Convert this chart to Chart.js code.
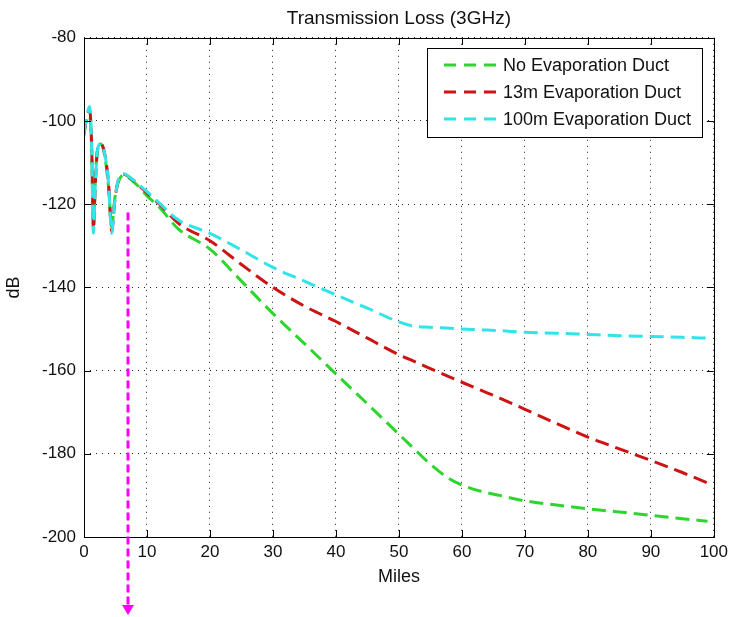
<!DOCTYPE html>
<html>
<head>
<meta charset="utf-8">
<title>Transmission Loss (3GHz)</title>
<script src="https://cdn.jsdelivr.net/npm/chart.js@4.4.0/dist/chart.umd.min.js"></script>
<style>
  html, body { margin: 0; padding: 0; background: #fff; }
  #wrap { width: 733px; height: 617px; }
</style>
</head>
<body>
<div id="wrap"><canvas id="lossChart" width="733" height="617"></canvas></div>
<script>
// Distance in miles, shared by the three curves
const miles = [0, 0.4, 0.9, 1.2, 1.5, 1.8, 2.2, 2.7, 3.3, 3.9,
               4.4, 4.9, 5.5, 6.3, 7, 8.5, 10, 12, 15, 20,
               25, 30, 35, 40, 45, 50, 52, 55, 58, 60,
               63, 66, 70, 75, 80, 85, 90, 95, 99];

// Transmission loss in dB
const lossNoDuct = [-103.5, -99.5, -99, -106, -125, -114, -106, -105.5, -108.5, -116,
                    -125.5, -118.5, -114.5, -113, -113.5, -115.5, -118, -120.8, -126, -130.8,
                    -138.5, -146.3, -153.5, -160.8, -168, -175.3, -178.2, -182.5, -186, -187.5,
                    -189, -190, -191.3, -192.3, -193.2, -194, -194.8, -195.6, -196.2];
const loss13m = [-103, -99.5, -97.5, -105, -126, -115, -106.5, -105.5, -108, -115,
                 -126.5, -119, -114, -112.8, -113.3, -115.2, -117.3, -120, -124.6, -128.8,
                 -134.5, -140, -144.5, -148.2, -152.2, -156.2, -157.5, -159.5, -161.5, -162.8,
                 -164.7, -166.6, -169.3, -172.7, -176, -178.8, -181.6, -184.5, -187];
const loss100m = [-103, -99, -96.5, -105, -127, -115, -106.5, -105.5, -108, -115,
                  -127, -119, -114, -112.7, -113.2, -115, -117, -119.8, -123.8, -127,
                  -131, -135.2, -138.5, -141.8, -145, -148.3, -149.2, -149.6, -149.8, -150,
                  -150.2, -150.4, -150.8, -151, -151.3, -151.6, -151.8, -152, -152.2];

const seriesNames = ['No Evaporation Duct', '13m Evaporation Duct', '100m Evaporation Duct'];
const seriesColors = ['#2cd62c', '#cc1414', '#30e4ea'];

// magenta marker: drops from this point down past the axis
const arrowMile = 7;
const arrowFromDb = -122;

const FONT = '"Liberation Sans", Arial, sans-serif';
Chart.defaults.font.family = FONT;
Chart.defaults.color = '#111';

function toPoints(ys) {
    return miles.map((m, i) => ({ x: m, y: ys[i] }));
}

// box round the plot and small ticks pointing inwards on all four sides
const matlabFrame = {
    id: 'matlabFrame',
    afterDatasetsDraw(chart) {
        const { ctx, chartArea: a, scales } = chart;
        const len = 7;
        ctx.save();
        ctx.strokeStyle = '#000';
        ctx.lineWidth = 1;
        ctx.beginPath();
        scales.x.ticks.forEach(t => {
            const px = Math.round(scales.x.getPixelForValue(t.value)) + 0.5;
            ctx.moveTo(px, a.bottom); ctx.lineTo(px, a.bottom - len);
            ctx.moveTo(px, a.top); ctx.lineTo(px, a.top + len);
        });
        scales.y.ticks.forEach(t => {
            const py = Math.round(scales.y.getPixelForValue(t.value)) + 0.5;
            ctx.moveTo(a.left, py); ctx.lineTo(a.left + len, py);
            ctx.moveTo(a.right, py); ctx.lineTo(a.right - len, py);
        });
        ctx.stroke();
        ctx.strokeRect(Math.round(a.left) + 0.5, Math.round(a.top) + 0.5,
                       Math.round(a.right - a.left), Math.round(a.bottom - a.top));
        ctx.restore();
    }
};

// legend inside the axes, top right, like MATLAB
const matlabLegend = {
    id: 'matlabLegend',
    afterDraw(chart) {
        const { ctx, chartArea } = chart;
        ctx.save();
        ctx.font = '18px ' + FONT;
        const textW = Math.max(...seriesNames.map(n => ctx.measureText(n).width));
        const w = Math.round(76 + textW + 11), h = 89;
        const left = Math.round(chartArea.right - 12 - w), top = Math.round(chartArea.top + 10);
        ctx.fillStyle = '#fff';
        ctx.fillRect(left, top, w, h);
        ctx.strokeStyle = '#000';
        ctx.lineWidth = 1;
        ctx.strokeRect(left + 0.5, top + 0.5, w, h);
        seriesNames.forEach((name, i) => {
            const y = top + 17 + i * 27;
            ctx.strokeStyle = seriesColors[i];
            ctx.lineWidth = 3;
            ctx.setLineDash([12, 8]);
            ctx.beginPath();
            ctx.moveTo(left + 17, y);
            ctx.lineTo(left + 69, y);
            ctx.stroke();
            ctx.setLineDash([]);
            ctx.fillStyle = '#111';
            ctx.textBaseline = 'middle';
            ctx.fillText(name, left + 76, y + 1);
        });
        ctx.restore();
    }
};

// dashed magenta arrow
const markerArrow = {
    id: 'markerArrow',
    afterDraw(chart) {
        const { ctx, scales } = chart;
        const x = Math.round(scales.x.getPixelForValue(arrowMile));
        const y0 = scales.y.getPixelForValue(arrowFromDb);
        const tip = chart.height - 2;
        ctx.save();
        ctx.strokeStyle = '#ff00ff';
        ctx.fillStyle = '#ff00ff';
        ctx.lineWidth = 3;
        ctx.setLineDash([8, 4]);
        ctx.beginPath();
        ctx.moveTo(x, y0);
        ctx.lineTo(x, tip - 9);
        ctx.stroke();
        ctx.setLineDash([]);
        ctx.beginPath();
        ctx.moveTo(x - 6, tip - 10);
        ctx.lineTo(x + 6, tip - 10);
        ctx.lineTo(x, tip);
        ctx.closePath();
        ctx.fill();
        ctx.restore();
    }
};

const lineStyle = {
    borderWidth: 3,
    borderDash: [14, 7],
    pointRadius: 0,
    fill: false,
    cubicInterpolationMode: 'monotone'
};

new Chart(document.getElementById('lossChart'), {
    type: 'line',
    data: {
        datasets: [
            { ...lineStyle, label: seriesNames[0], data: toPoints(lossNoDuct), borderColor: seriesColors[0], order: 2 },
            { ...lineStyle, label: seriesNames[1], data: toPoints(loss13m), borderColor: seriesColors[1], order: 1 },
            { ...lineStyle, label: seriesNames[2], data: toPoints(loss100m), borderColor: seriesColors[2], order: 0 }
        ]
    },
    options: {
        responsive: false,
        animation: false,
        layout: { padding: { left: 0, right: 17, top: 0, bottom: 0 } },
        plugins: {
            legend: { display: false },
            tooltip: { enabled: false },
            title: {
                display: true,
                text: 'Transmission Loss (3GHz)',
                fullSize: false,
                color: '#111',
                font: { size: 19, weight: 'normal' },
                padding: { top: 7, bottom: 8 }
            }
        },
        scales: {
            x: {
                type: 'linear',
                min: 0, max: 100,
                ticks: { stepSize: 10, padding: 5, font: { size: 17 }, color: '#111', maxRotation: 0 },
                grid: { color: '#222', lineWidth: 1, drawTicks: false },
                border: { display: false, dash: [1, 5] },
                title: { display: true, text: 'Miles', font: { size: 18 }, color: '#111', padding: { top: 0, bottom: 29 } },
                afterFit: s => { s.height = 80; }
            },
            y: {
                min: -200, max: -80,
                ticks: { stepSize: 20, padding: 8, font: { size: 17 }, color: '#111' },
                grid: { color: '#222', lineWidth: 1, drawTicks: false },
                border: { display: false, dash: [1, 5] },
                title: { display: true, text: 'dB', font: { size: 18 }, color: '#111', padding: { top: 3, bottom: 0 } },
                afterFit: s => { s.width = 84; }
            }
        }
    },
    plugins: [matlabFrame, matlabLegend, markerArrow]
});
</script>
</body>
</html>
